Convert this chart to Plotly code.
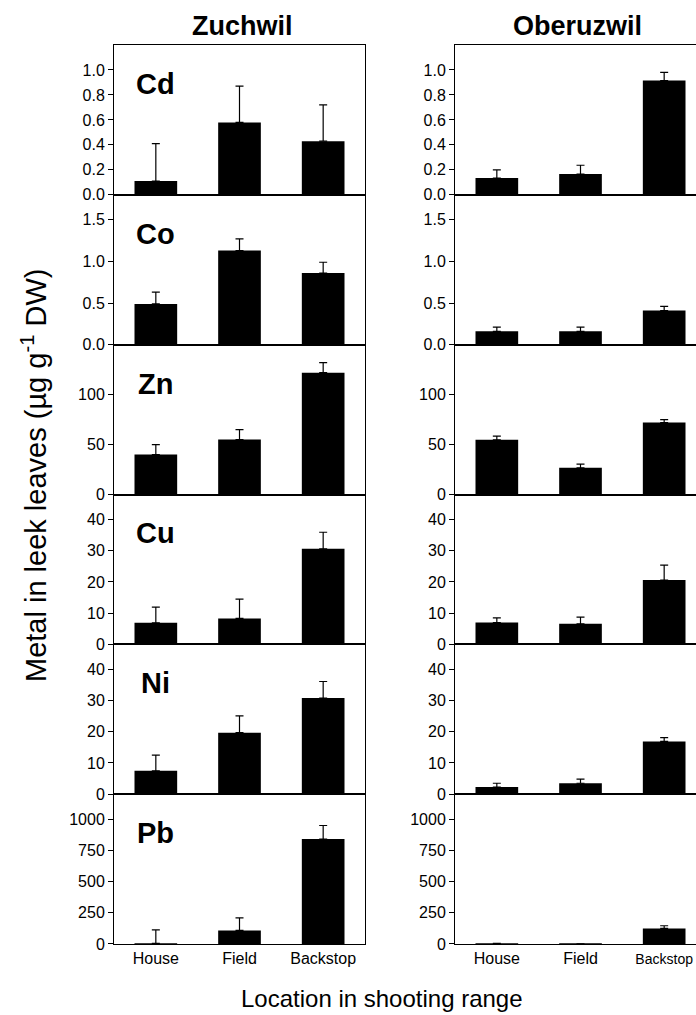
import plotly.graph_objects as go

# ---------------- data ----------------
sites = ["Zuchwil", "Oberuzwil"]
locations = ["House", "Field", "Backstop"]
metals = ["Cd", "Co", "Zn", "Cu", "Ni", "Pb"]

# Zuchwil means and upper error (SD)
zuchwil_cd = [0.11, 0.58, 0.43]
zuchwil_cd_err = [0.30, 0.29, 0.29]
zuchwil_co = [0.49, 1.13, 0.86]
zuchwil_co_err = [0.14, 0.14, 0.13]
zuchwil_zn = [40, 55, 122]
zuchwil_zn_err = [10, 10, 10]
zuchwil_cu = [6.9, 8.3, 30.6]
zuchwil_cu_err = [5.0, 6.2, 5.3]
zuchwil_ni = [7.5, 19.7, 30.8]
zuchwil_ni_err = [5.0, 5.4, 5.3]
zuchwil_pb = [5, 109, 840]
zuchwil_pb_err = [108, 100, 109]

# Oberuzwil means and upper error (SD)
oberuzwil_cd = [0.135, 0.167, 0.915]
oberuzwil_cd_err = [0.065, 0.07, 0.065]
oberuzwil_co = [0.16, 0.16, 0.41]
oberuzwil_co_err = [0.05, 0.05, 0.05]
oberuzwil_zn = [54.7, 26.7, 72]
oberuzwil_zn_err = [3.7, 3.7, 3.0]
oberuzwil_cu = [7.0, 6.6, 20.6]
oberuzwil_cu_err = [1.5, 2.1, 4.8]
oberuzwil_ni = [2.3, 3.5, 16.9]
oberuzwil_ni_err = [1.2, 1.3, 1.2]
oberuzwil_pb = [3, 1, 125]
oberuzwil_pb_err = [3, 1, 21]

# y tick values per metal
cd_ticks = [0.0, 0.2, 0.4, 0.6, 0.8, 1.0]
co_ticks = [0.0, 0.5, 1.0, 1.5]
zn_ticks = [0, 50, 100]
cu_ticks = [0, 10, 20, 30, 40]
ni_ticks = [0, 10, 20, 30, 40]
pb_ticks = [0, 250, 500, 750, 1000]

# ---------------- structure ----------------
values = {
    "Zuchwil": [zuchwil_cd, zuchwil_co, zuchwil_zn, zuchwil_cu, zuchwil_ni, zuchwil_pb],
    "Oberuzwil": [oberuzwil_cd, oberuzwil_co, oberuzwil_zn, oberuzwil_cu, oberuzwil_ni, oberuzwil_pb],
}
errors = {
    "Zuchwil": [zuchwil_cd_err, zuchwil_co_err, zuchwil_zn_err, zuchwil_cu_err, zuchwil_ni_err, zuchwil_pb_err],
    "Oberuzwil": [oberuzwil_cd_err, oberuzwil_co_err, oberuzwil_zn_err, oberuzwil_cu_err, oberuzwil_ni_err, oberuzwil_pb_err],
}
ticks = [cd_ticks, co_ticks, zn_ticks, cu_ticks, ni_ticks, pb_ticks]
tick_formats = [".1f", ".1f", "d", "d", "d", "d"]
y_ranges = [[0, 1.2], [0, 1.8], [0, 150], [0, 48], [0, 48], [0, 1200]]

# x tick texts (right column: smaller "Backstop" so it fits at the edge)
x_ticktexts = [
    locations,
    locations[:2] + [f"<span style='font-size:14px'>{locations[2]}</span>"],
]

FONT = "Liberation Sans, Arial, Helvetica, sans-serif"
W, H = 696, 1015
ML, MR, MT, MB = 114, 0, 45, 71
PW = W - ML - MR
PH = H - MT - MB

col_domains = [[0.0, (365 - ML) / PW], [(455 - ML) / PW, 1.0]]
col_ranges = [[-0.5, 2.5], [-0.5, -0.5 + (696 - 455) / 83.67]]

fig = go.Figure()
layout = dict(
    width=W, height=H,
    margin=dict(l=ML, r=MR, t=MT, b=MB),
    paper_bgcolor="white", plot_bgcolor="white",
    showlegend=False,
    font=dict(family=FONT, color="black", size=16),
)
annotations = []

nrows = len(metals)
for r, metal in enumerate(metals):
    for c, site in enumerate(sites):
        n = r * 2 + c + 1
        xa = "x" if n == 1 else f"x{n}"
        ya = "y" if n == 1 else f"y{n}"
        fig.add_trace(go.Bar(
            x=locations, y=values[site][r],
            xaxis=xa, yaxis=ya,
            width=0.51,
            marker=dict(color="black", line=dict(width=0)),
            error_y=dict(type="data", symmetric=False,
                         array=errors[site][r], arrayminus=[0] * len(locations),
                         color="black", thickness=1.2, width=4),
        ))
        ydom = [1 - (r + 1) / nrows, 1 - r / nrows]
        layout[f"xaxis{'' if n == 1 else n}"] = dict(
            domain=col_domains[c], anchor=ya, type="category",
            range=col_ranges[c],
            tickmode="array", tickvals=locations, ticktext=x_ticktexts[c],
            showline=True, linecolor="black", linewidth=1, mirror=True,
            showgrid=False, zeroline=False, ticks="",
            showticklabels=(r == nrows - 1),
            tickfont=dict(size=16, family=FONT, color="black"),
        )
        layout[f"yaxis{'' if n == 1 else n}"] = dict(
            domain=ydom, anchor=xa, range=y_ranges[r],
            tickvals=ticks[r], tickformat=tick_formats[r],
            showline=True, linecolor="black", linewidth=1,
            mirror=(c == 0),
            ticks="outside", ticklen=5, tickwidth=1, tickcolor="black",
            showgrid=False, zeroline=False,
            tickfont=dict(size=16, family=FONT, color="black"),
        )
        if c == 0:
            annotations.append(dict(
                text=f"<b>{metal}</b>", xref=f"{xa} domain", yref=f"{ya} domain",
                x=(155 - ML) / 251, y=1 - 39 / 150, xanchor="center", yanchor="middle",
                showarrow=False, font=dict(size=29, family=FONT, color="black"),
            ))

# column titles
for site, px in zip(sites, [242, 577]):
    annotations.append(dict(
        text=f"<b>{site}</b>", xref="paper", yref="paper",
        x=(px - ML) / PW, y=1 + (MT - 26) / PH, xanchor="center", yanchor="middle",
        showarrow=False, font=dict(size=27, family=FONT, color="black"),
    ))

# axis titles
annotations.append(dict(
    text="Location in shooting range", xref="paper", yref="paper",
    x=(381.5 - ML) / PW, y=-(998 - (H - MB)) / PH, xanchor="center", yanchor="middle",
    showarrow=False, font=dict(size=24, family=FONT, color="black"),
))
annotations.append(dict(
    text="Metal in leek leaves (µg g<sup>-1</sup> DW)", xref="paper", yref="paper",
    x=(34 - ML) / PW, y=((H - MB) - 475) / PH, xanchor="center", yanchor="middle",
    textangle=-90, showarrow=False, font=dict(size=29, family=FONT, color="black"),
))

layout["annotations"] = annotations
fig.update_layout(**layout)
fig.write_html(
    "out.html",
    config={"displayModeBar": False},
    post_script="document.body.style.margin='0';document.body.style.overflow='hidden';",
)
